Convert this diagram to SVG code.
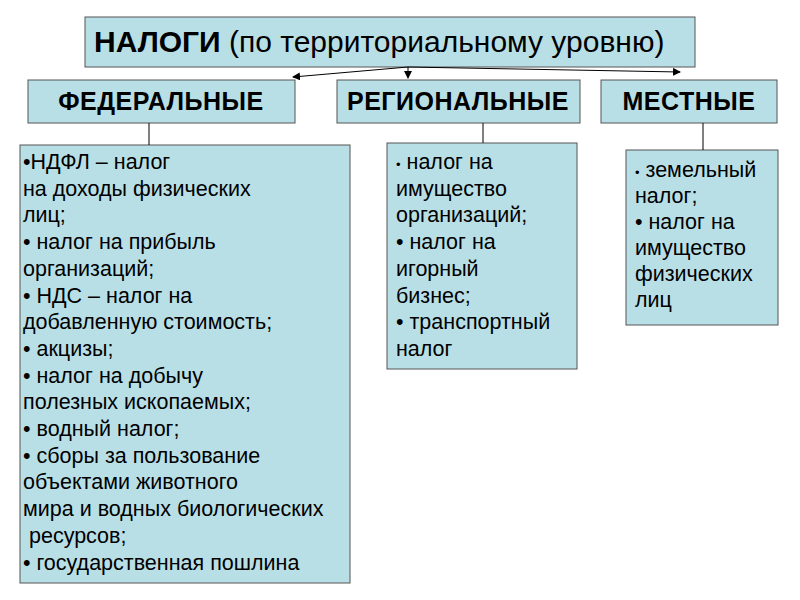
<svg xmlns="http://www.w3.org/2000/svg" width="800" height="600" viewBox="0 0 800 600">
<style>
.b{fill:#b9dfe6;stroke:#555;stroke-width:1}
text{font-family:"Liberation Sans",Arial,sans-serif;fill:#000}
.h{font-size:25px;font-weight:bold;text-anchor:middle;letter-spacing:0.5px}
.t{font-size:21.5px}
.c{stroke:#000;stroke-width:1;fill:none}
</style>
<defs><marker id="a" markerWidth="8" markerHeight="8" refX="7" refY="4" orient="auto" markerUnits="userSpaceOnUse"><path d="M0,0 L8,4 L0,8 z" fill="#000"/></marker></defs>
<rect width="800" height="600" fill="#fff"/>
<g id="title"><rect class="b" x="85" y="17" width="610" height="50"/><text x="94" y="52" style="font-size:30px"><tspan font-weight="bold">НАЛОГИ</tspan> (по территориальному уровню)</text></g>
<g id="fed"><rect class="b" x="28" y="80" width="267" height="43"/><text class="h" x="161" y="110">ФЕДЕРАЛЬНЫЕ</text></g>
<g id="reg"><rect class="b" x="337" y="80" width="243" height="43"/><text class="h" x="458" y="110">РЕГИОНАЛЬНЫЕ</text></g>
<g id="loc"><rect class="b" x="601" y="80" width="176" height="43"/><text class="h" x="689" y="110">МЕСТНЫЕ</text></g>
<g id="fedlist"><rect class="b" x="20" y="145" width="330" height="438"/>
<text class="t"><tspan x="23" y="169">•НДФЛ – налог</tspan><tspan x="23" y="195.7">на доходы физических</tspan><tspan x="23" y="222.4">лиц;</tspan><tspan x="23" y="249.1">• налог на прибыль</tspan><tspan x="23" y="275.8">организаций;</tspan><tspan x="23" y="302.5">• НДС – налог на</tspan><tspan x="23" y="329.2">добавленную стоимость;</tspan><tspan x="23" y="355.9">• акцизы;</tspan><tspan x="23" y="382.6">• налог на добычу</tspan><tspan x="23" y="409.3">полезных ископаемых;</tspan><tspan x="23" y="436">• водный налог;</tspan><tspan x="23" y="462.7">• сборы за пользование</tspan><tspan x="23" y="489.4">объектами животного</tspan><tspan x="23" y="516.1">мира и водных биологических</tspan><tspan x="23" y="542.8"> ресурсов;</tspan><tspan x="23" y="569.5">• государственная пошлина</tspan></text></g>
<g id="reglist"><rect class="b" x="387" y="143" width="190" height="226"/>
<text class="t"><tspan x="396" y="169"><tspan font-size="13">•</tspan> налог на</tspan><tspan x="396" y="195.7">имущество</tspan><tspan x="396" y="222.4">организаций;</tspan><tspan x="396" y="249.1">• налог на</tspan><tspan x="396" y="275.8">игорный</tspan><tspan x="396" y="302.5">бизнес;</tspan><tspan x="396" y="329.2">• транспортный</tspan><tspan x="396" y="355.9">налог</tspan></text></g>
<g id="loclist"><rect class="b" x="626" y="150" width="152" height="175"/>
<text class="t"><tspan x="635" y="177"><tspan font-size="13">•</tspan> земельный</tspan><tspan x="635" y="203">налог;</tspan><tspan x="635" y="229">• налог на</tspan><tspan x="635" y="255">имущество</tspan><tspan x="635" y="281">физических</tspan><tspan x="635" y="307">лиц</tspan></text></g>
<g id="connectors">
<line class="c" x1="408" y1="67" x2="293" y2="77" marker-end="url(#a)"/>
<line class="c" x1="408" y1="67" x2="408" y2="78" marker-end="url(#a)"/>
<line class="c" x1="408" y1="67" x2="680" y2="72" marker-end="url(#a)"/>
<line class="c" x1="149" y1="123" x2="149" y2="145"/>
<line class="c" x1="483" y1="123" x2="483" y2="143"/>
<line class="c" x1="703" y1="123" x2="703" y2="150"/>
</g>
</svg>
